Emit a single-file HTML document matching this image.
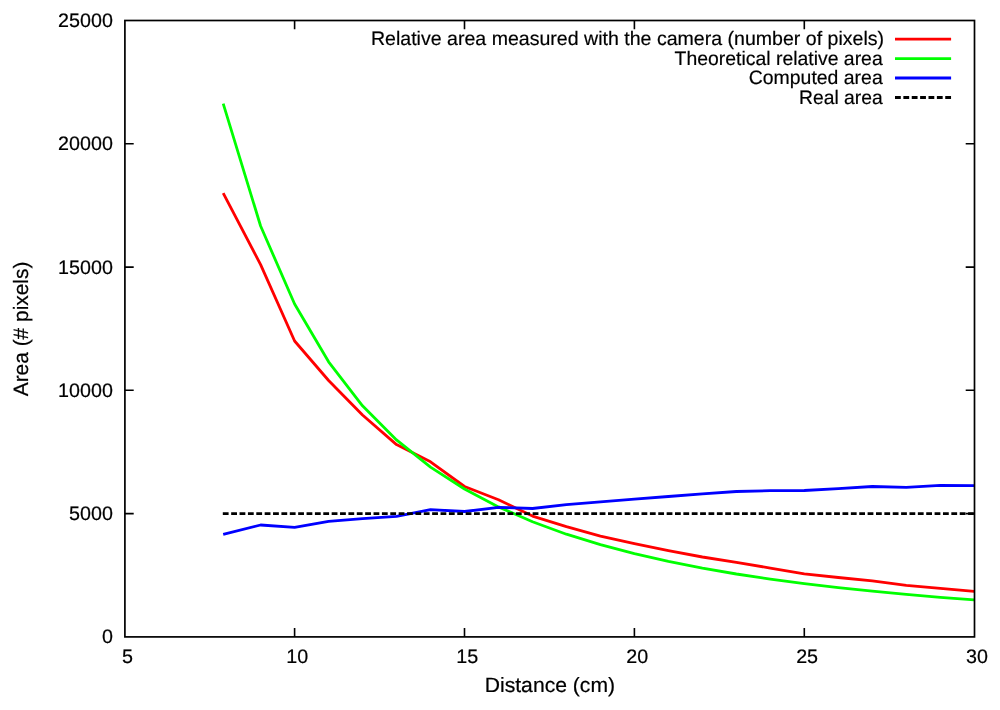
<!DOCTYPE html>
<html><head><meta charset="utf-8"><title>Area vs distance</title>
<style>
html,body{margin:0;padding:0;background:#fff;}
body{width:1000px;height:710px;overflow:hidden;}
svg{display:block;}
text{font-family:"Liberation Sans",Arial,Helvetica,sans-serif;font-size:20px;fill:#000;stroke:#000;stroke-width:0.2px;text-rendering:geometricPrecision;}
</style></head><body>
<svg width="1000" height="710" viewBox="0 0 1000 710">
<rect width="1000" height="710" fill="#fff"/>
<clipPath id="c"><rect x="124.9" y="15.5" width="849.6" height="621.4"/></clipPath>
<g fill="none" stroke-width="2.8" stroke-linejoin="round" clip-path="url(#c)">
<polyline stroke="#f00" points="223.2,193.1 260.6,264.6 294.6,341.0 328.6,380.5 362.5,415.0 396.5,444.6 430.5,461.8 464.5,486.5 498.5,499.7 532.5,516.1 566.4,526.7 600.4,536.1 634.4,543.7 668.4,550.6 702.4,557.0 736.4,562.4 770.3,568.1 804.3,573.8 838.3,577.5 872.3,580.9 906.3,585.4 940.3,588.3 974.2,591.4"/>
<polyline stroke="#0f0" points="223.2,103.6 260.6,226.0 294.6,304.0 328.6,361.8 362.5,405.8 396.5,439.9 430.5,467.1 464.5,489.0 498.5,506.9 532.5,521.7 566.4,534.2 600.4,544.7 634.4,553.7 668.4,561.4 702.4,568.1 736.4,574.0 770.3,579.1 804.3,583.6 838.3,587.7 872.3,591.2 906.3,594.4 940.3,597.3 974.2,599.9"/>
<polyline stroke="#00f" points="223.2,534.4 260.6,525.0 294.6,527.4 328.6,521.4 362.5,518.6 396.5,516.4 430.5,509.6 464.5,511.5 498.5,507.4 532.5,508.5 566.4,504.6 600.4,501.9 634.4,499.1 668.4,496.5 702.4,493.9 736.4,491.5 770.3,490.7 804.3,490.5 838.3,488.7 872.3,486.5 906.3,487.4 940.3,485.4 974.2,485.6"/>
<path stroke="#000" stroke-dasharray="5.8 2.574" d="M222.8 513.6H974.5"/>
</g>
<g fill="none" stroke-width="2.8">
<path stroke="#f00" d="M895 39.1H951.1"/>
<path stroke="#0f0" d="M895 58.55H951.1"/>
<path stroke="#00f" d="M895 78H951.1"/>
<path stroke="#000" stroke-dasharray="5.8 2.574" d="M895 97.5H951.1"/>
</g>
<path fill="none" stroke="#000" stroke-width="1.6" d="M294.6 636.9V628.1M294.6 20.5V29.3M124.9 513.6H133.7M974.5 513.6H965.7M464.5 636.9V628.1M464.5 20.5V29.3M124.9 390.3H133.7M974.5 390.3H965.7M634.4 636.9V628.1M634.4 20.5V29.3M124.9 267.1H133.7M974.5 267.1H965.7M804.3 636.9V628.1M804.3 20.5V29.3M124.9 143.8H133.7M974.5 143.8H965.7"/>
<rect x="124.9" y="20.5" width="849.6" height="616.4" fill="none" stroke="#000" stroke-width="1.7"/>
<text transform="translate(112.9 643.3) scale(0.985 0.975)" text-anchor="end">0</text>
<text transform="translate(112.9 520.0) scale(0.985 0.975)" text-anchor="end">5000</text>
<text transform="translate(112.9 396.7) scale(0.985 0.975)" text-anchor="end">10000</text>
<text transform="translate(112.9 273.5) scale(0.985 0.975)" text-anchor="end">15000</text>
<text transform="translate(112.9 150.2) scale(0.985 0.975)" text-anchor="end">20000</text>
<text transform="translate(112.9 26.9) scale(0.985 0.975)" text-anchor="end">25000</text>
<text transform="translate(127.4 662.9) scale(0.985 0.975)" text-anchor="middle">5</text>
<text transform="translate(297.3 662.9) scale(0.985 0.975)" text-anchor="middle">10</text>
<text transform="translate(467.2 662.9) scale(0.985 0.975)" text-anchor="middle">15</text>
<text transform="translate(637.2 662.9) scale(0.985 0.975)" text-anchor="middle">20</text>
<text transform="translate(807.1 662.9) scale(0.985 0.975)" text-anchor="middle">25</text>
<text transform="translate(977.0 662.9) scale(0.985 0.975)" text-anchor="middle">30</text>
<text transform="translate(884.1 45.4) scale(0.9780 0.975)" text-anchor="end">Relative area measured with the camera (number of pixels)</text>
<text transform="translate(882.7 64.8) scale(0.9700 0.975)" text-anchor="end">Theoretical relative area</text>
<text transform="translate(882.7 84.2) scale(0.9715 0.975)" text-anchor="end">Computed area</text>
<text transform="translate(882.7 103.6) scale(0.9640 0.975)" text-anchor="end">Real area</text>
<text transform="translate(549.9 692.2) scale(1.057 1.035)" text-anchor="middle">Distance (cm)</text>
<text transform="translate(28.2 328.95) rotate(-90) scale(1.044 1.04)" text-anchor="middle">Area (# pixels)</text>
</svg>
</body></html>
